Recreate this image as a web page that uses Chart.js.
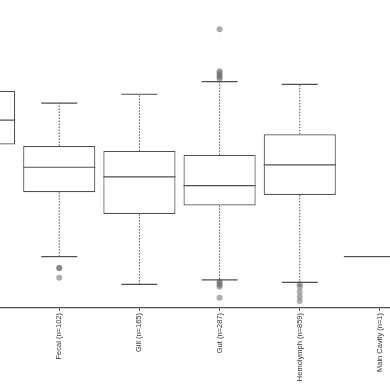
<!DOCTYPE html>
<html>
<head>
<meta charset="utf-8">
<script src="https://cdn.jsdelivr.net/npm/chart.js@4.4.1/dist/chart.umd.min.js"></script>
<style>
  html, body { margin: 0; padding: 0; background: #fff; overflow: hidden; }
  #wrap { position: relative; width: 390px; height: 390px; overflow: hidden; }
  #chart { position: absolute; left: -65px; top: -4px; }
</style>
</head>
<body>
<div id="wrap"><canvas id="chart" width="489" height="394"></canvas></div>
<script>
// first group is cut off at the left edge of the picture
const labels = ['', 'Fecal (n=102)', 'Gill (n=165)', 'Gut (n=287)', 'Hemolymph (n=859)', 'Main Cavity (n=1)'];
const q1 = [5.31, 3.76, 3.05, 3.33, 3.67, 1.67];
const medians = [6.10, 4.57, 4.26, 3.97, 4.65, 1.67];
const q3 = [7.05, 5.26, 5.10, 4.97, 5.64, 1.67];
const whiskerLow = [4.20, 1.67, 0.77, 0.91, 0.83, 1.67];
const whiskerHigh = [8.20, 6.65, 6.94, 7.35, 7.26, 1.67];
const outliers = [
  [],
  [1.31, 1.29, 0.98],
  [],
  [9.05, 7.69, 7.63, 7.56, 7.50, 7.44, 0.85, 0.81, 0.75, 0.69, 0.33],
  [0.78, 0.69, 0.53, 0.37, 0.23],
  []
];

const lineColor = '#505050';

// whiskers, caps and medians drawn on top of the box bars
const boxLines = {
  id: 'boxLines',
  afterDatasetsDraw(chart) {
    const ctx = chart.ctx;
    const x = chart.scales.x;
    const y = chart.scales.y;
    const boxW = x.width / labels.length * 0.9;
    ctx.save();
    ctx.strokeStyle = lineColor;
    labels.forEach((l, i) => {
      const cx = x.getPixelForValue(i);
      // dotted whiskers
      ctx.lineWidth = 1;
      ctx.setLineDash([1.5, 1.5]);
      ctx.beginPath();
      ctx.moveTo(cx, y.getPixelForValue(q3[i]));
      ctx.lineTo(cx, y.getPixelForValue(whiskerHigh[i]));
      ctx.moveTo(cx, y.getPixelForValue(q1[i]));
      ctx.lineTo(cx, y.getPixelForValue(whiskerLow[i]));
      ctx.stroke();
      ctx.setLineDash([]);
      // caps
      ctx.lineWidth = 1.2;
      ctx.beginPath();
      [whiskerHigh[i], whiskerLow[i]].forEach(v => {
        const py = y.getPixelForValue(v);
        ctx.moveTo(cx - boxW / 4, py);
        ctx.lineTo(cx + boxW / 4, py);
      });
      // median
      const my = y.getPixelForValue(medians[i]);
      ctx.moveTo(cx - boxW / 2, my);
      ctx.lineTo(cx + boxW / 2, my);
      ctx.stroke();
    });
    ctx.restore();
  }
};

const outlierPoints = [];
outliers.forEach((list, i) => list.forEach(v => outlierPoints.push({ x: labels[i], y: v })));

new Chart(document.getElementById('chart'), {
  type: 'bar',
  data: {
    labels: labels,
    datasets: [
      {
        type: 'scatter',
        data: outlierPoints,
        backgroundColor: 'rgba(105,105,105,0.55)',
        borderWidth: 0,
        pointRadius: 3,
        order: 0
      },
      {
        data: labels.map((l, i) => [q1[i], q3[i]]),
        backgroundColor: '#fff',
        borderColor: lineColor,
        borderWidth: 1.2,
        borderSkipped: false,
        categoryPercentage: 1,
        barPercentage: 0.9,
        grouped: false,
        order: 1
      }
    ]
  },
  options: {
    responsive: false,
    animation: false,
    layout: { padding: 0 },
    plugins: { legend: { display: false }, tooltip: { enabled: false } },
    scales: {
      x: {
        type: 'category',
        offset: true,
        afterFit: (scale) => { scale.height = 82; },
        border: { color: lineColor, width: 1.2 },
        grid: { drawOnChartArea: false, tickLength: 3, color: lineColor, offset: false },
        ticks: {
          autoSkip: false,
          minRotation: 90,
          maxRotation: 90,
          padding: 2,
          color: '#333',
          font: { family: "'Liberation Sans', Arial, sans-serif", size: 7.5 }
        }
      },
      y: {
        display: false,
        min: 0,
        max: 10
      }
    }
  },
  plugins: [boxLines]
});
</script>
</body>
</html>
